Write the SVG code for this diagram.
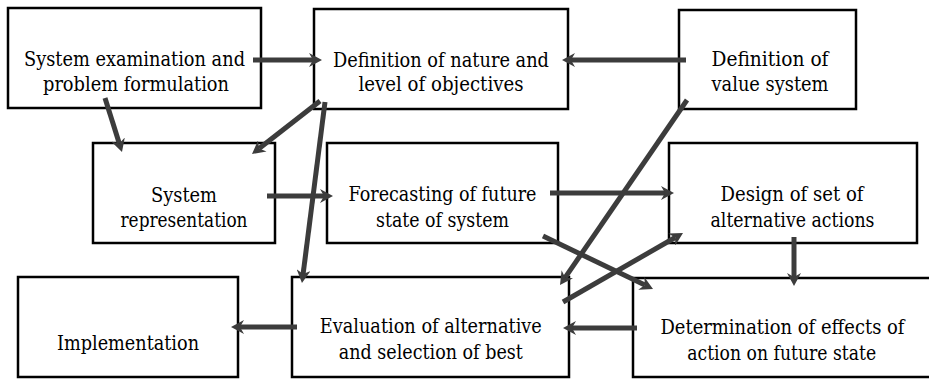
<svg xmlns="http://www.w3.org/2000/svg" width="929" height="379" viewBox="0 0 929 379">
<style>
.box{fill:#fff;stroke:#000;stroke-width:2.5}
.c{stroke:#3c3c3c;stroke-width:5;fill:none}
.t{font-family:"DejaVu Serif",serif;font-size:20.5px;text-anchor:middle;fill:#000}
</style>
<defs>
<marker id="ah" markerUnits="userSpaceOnUse" markerWidth="13" markerHeight="14" viewBox="0 0 13 14" refX="4" refY="7" orient="auto">
<path d="M0,0 L13,7 L0,14 L4,7 z" fill="#3c3c3c"/>
</marker>
</defs>
<g id="nodes">
<g id="n1"><rect class="box" x="8" y="8" width="253" height="100"/><text class="t" x="134.5" y="66" textLength="221" lengthAdjust="spacingAndGlyphs">System examination and</text><text class="t" x="136" y="91" textLength="186" lengthAdjust="spacingAndGlyphs">problem formulation</text></g>
<g id="n2"><rect class="box" x="314" y="9" width="254" height="100"/><text class="t" x="441" y="67" textLength="216" lengthAdjust="spacingAndGlyphs">Definition of nature and</text><text class="t" x="441" y="91" textLength="165" lengthAdjust="spacingAndGlyphs">level of objectives</text></g>
<g id="n3"><rect class="box" x="679" y="10" width="177" height="99"/><text class="t" x="770" y="66" textLength="117" lengthAdjust="spacingAndGlyphs">Definition of</text><text class="t" x="770" y="91" textLength="117" lengthAdjust="spacingAndGlyphs">value system</text></g>
<g id="n4"><rect class="box" x="93" y="143" width="182" height="100"/><text class="t" x="184" y="202" textLength="66" lengthAdjust="spacingAndGlyphs">System</text><text class="t" x="184" y="227" textLength="127" lengthAdjust="spacingAndGlyphs">representation</text></g>
<g id="n5"><rect class="box" x="327" y="143" width="231" height="100"/><text class="t" x="442.5" y="201" textLength="188" lengthAdjust="spacingAndGlyphs">Forecasting of future</text><text class="t" x="442.5" y="227" textLength="133" lengthAdjust="spacingAndGlyphs">state of system</text></g>
<g id="n6"><rect class="box" x="669" y="143" width="248" height="100"/><text class="t" x="792" y="201" textLength="143" lengthAdjust="spacingAndGlyphs">Design of set of</text><text class="t" x="792.5" y="227" textLength="164" lengthAdjust="spacingAndGlyphs">alternative actions</text></g>
<g id="n7"><rect class="box" x="18" y="277" width="220" height="100"/><text class="t" x="128" y="350" textLength="142" lengthAdjust="spacingAndGlyphs">Implementation</text></g>
<g id="n8"><rect class="box" x="292" y="277" width="277" height="100"/><text class="t" x="430.8" y="333" textLength="222" lengthAdjust="spacingAndGlyphs">Evaluation of alternative</text><text class="t" x="430.8" y="359" textLength="184" lengthAdjust="spacingAndGlyphs">and selection of best</text></g>
<g id="n9"><rect class="box" x="633" y="278" width="310" height="99"/><text class="t" x="782.5" y="334" textLength="244" lengthAdjust="spacingAndGlyphs">Determination of effects of</text><text class="t" x="781.7" y="360" textLength="189" lengthAdjust="spacingAndGlyphs">action on future state</text></g>
</g>
<g id="connectors">
<line class="c" marker-end="url(#ah)" x1="253" y1="60" x2="313" y2="60"/>
<line class="c" marker-end="url(#ah)" x1="686" y1="60" x2="571" y2="60"/>
<line class="c" marker-end="url(#ah)" x1="105" y1="98" x2="119.3" y2="143.4"/>
<line class="c" marker-end="url(#ah)" x1="320" y1="101" x2="259.1" y2="148.5"/>
<line class="c" marker-end="url(#ah)" x1="325" y1="102" x2="303.1" y2="274.1"/>
<line class="c" marker-end="url(#ah)" x1="267" y1="196" x2="324" y2="196"/>
<line class="c" marker-end="url(#ah)" x1="550" y1="193" x2="665" y2="193"/>
<line class="c" marker-end="url(#ah)" x1="687" y1="100" x2="565.1" y2="277.6"/>
<line class="c" marker-end="url(#ah)" x1="543" y1="236" x2="644.9" y2="285.1"/>
<line class="c" marker-end="url(#ah)" x1="563" y1="302" x2="675.2" y2="237.5"/>
<line class="c" marker-end="url(#ah)" x1="794" y1="237" x2="794" y2="277"/>
<line class="c" marker-end="url(#ah)" x1="637" y1="328" x2="572" y2="328"/>
<line class="c" marker-end="url(#ah)" x1="297" y1="327" x2="240" y2="327"/>
</g>
</svg>
